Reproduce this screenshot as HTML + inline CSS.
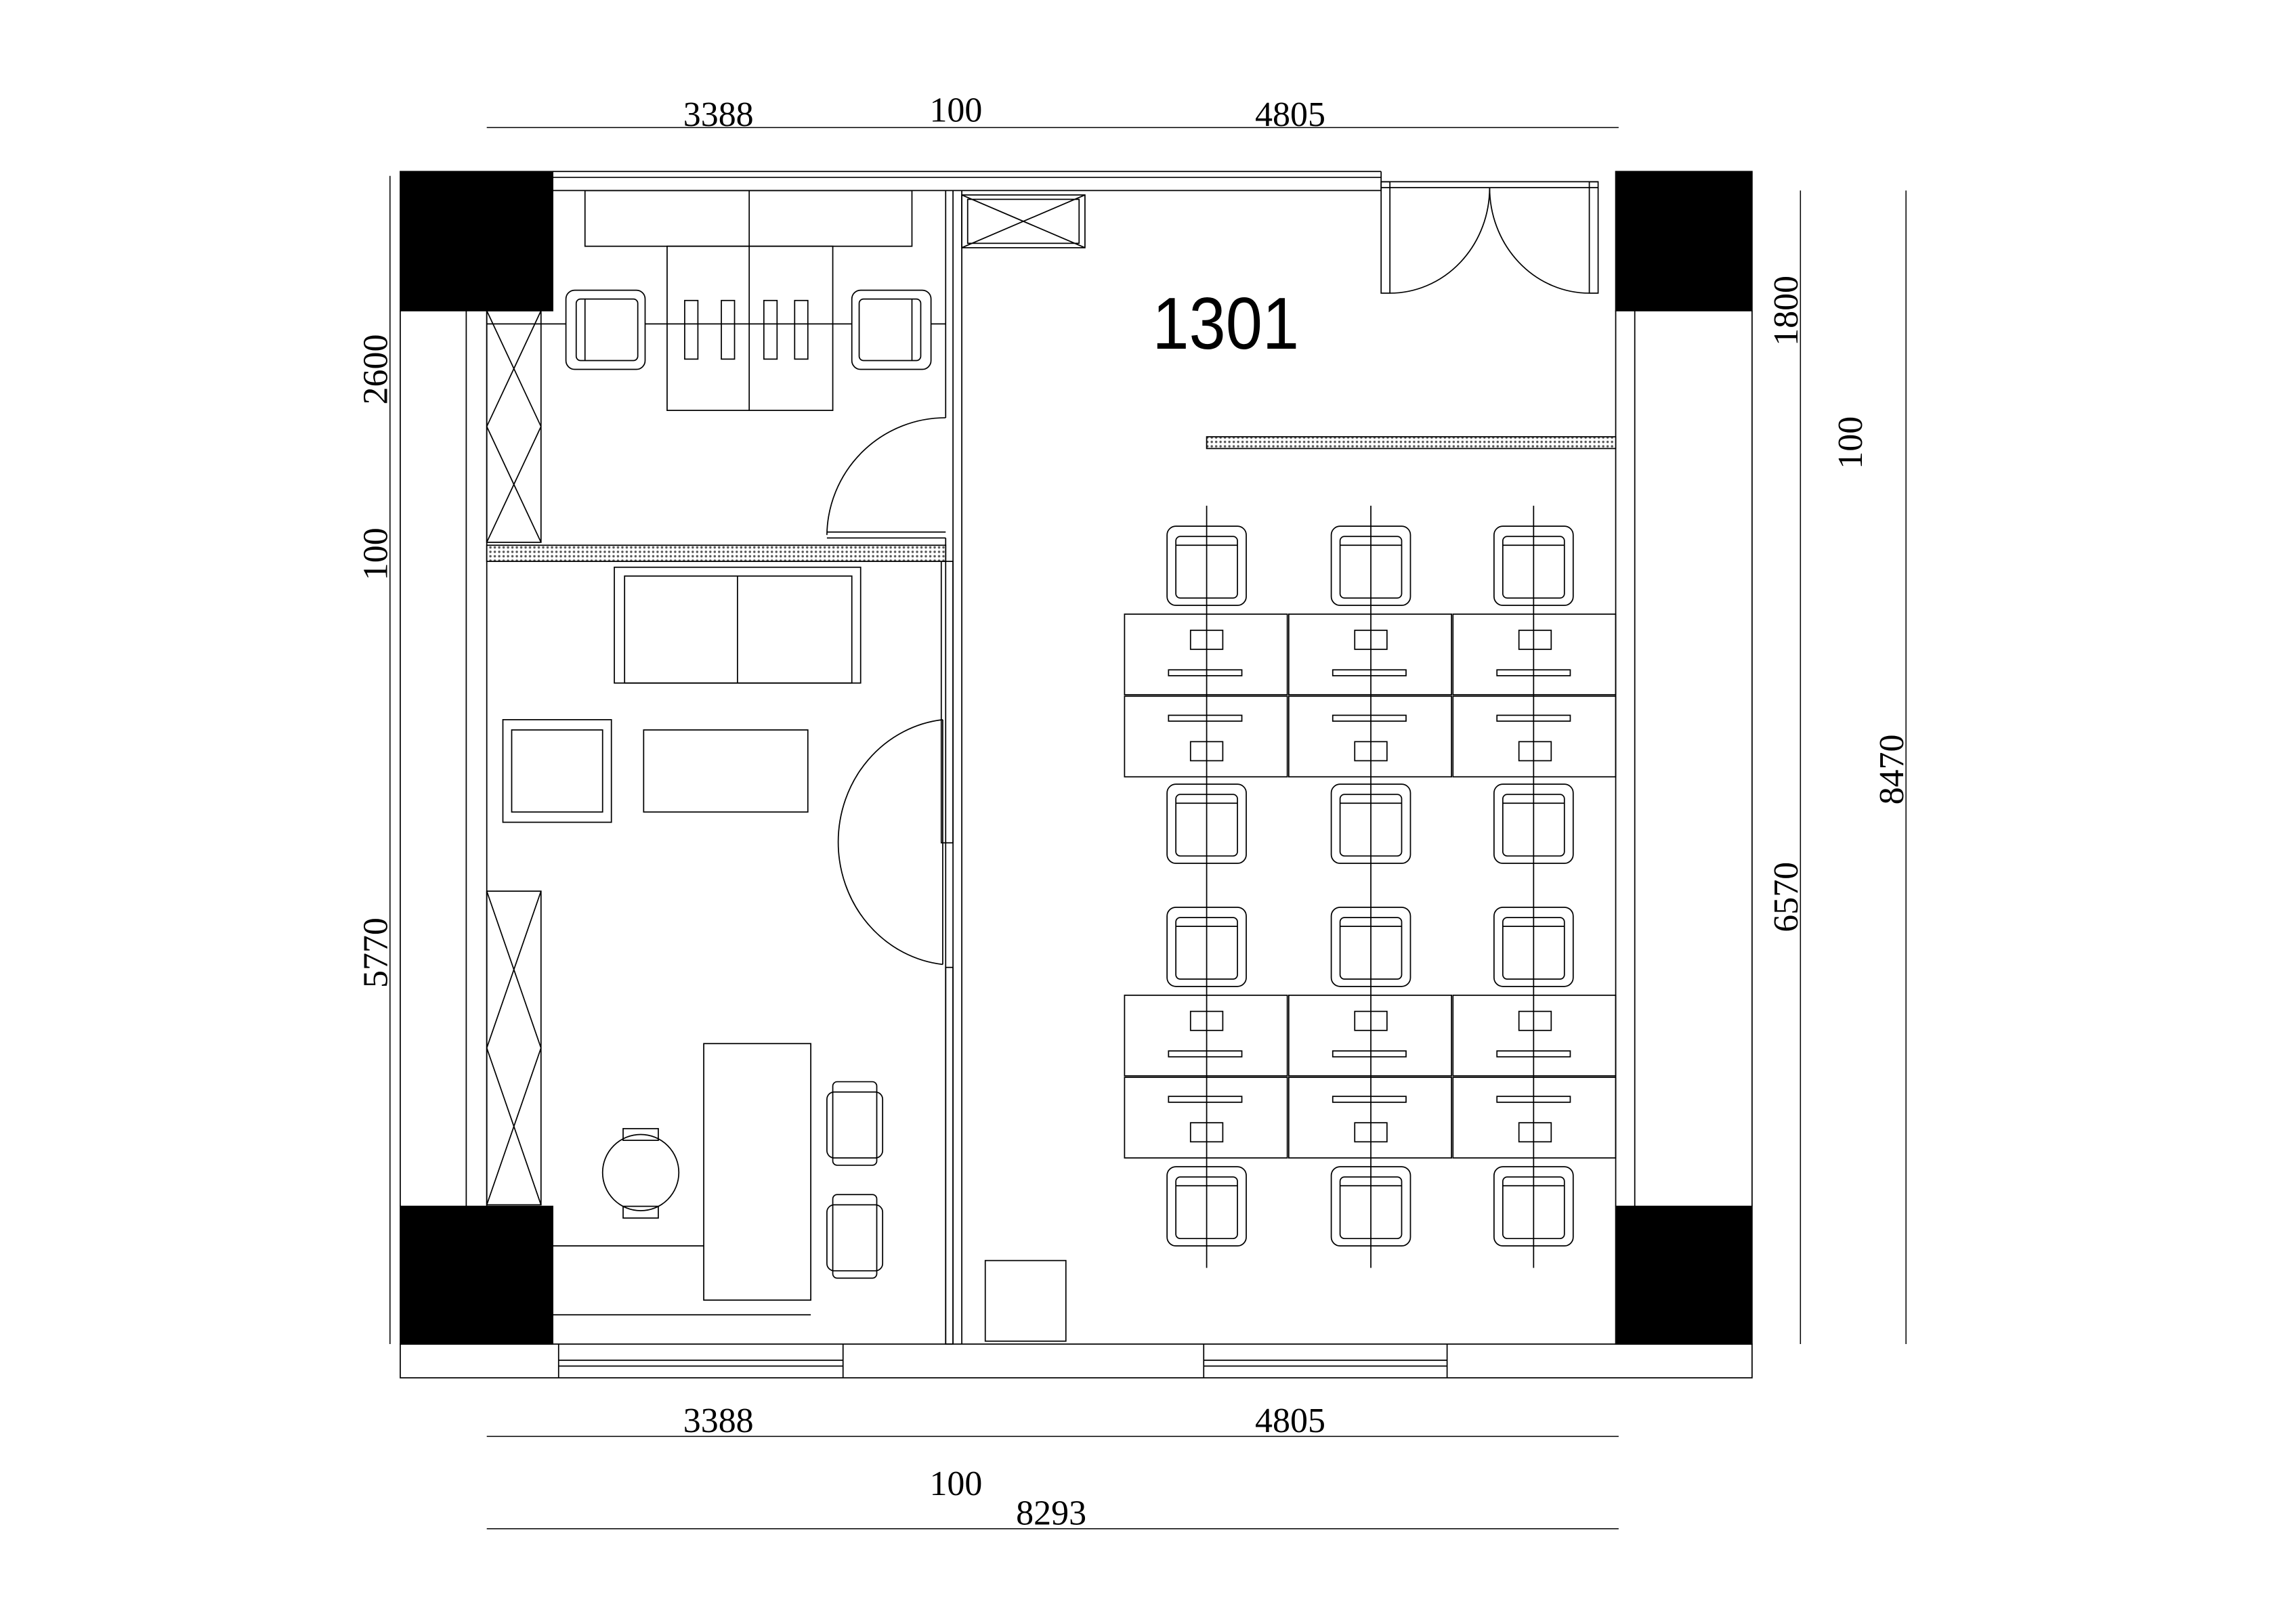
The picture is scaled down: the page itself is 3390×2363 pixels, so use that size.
<!DOCTYPE html>
<html><head><meta charset="utf-8"><style>html,body{margin:0;padding:0;background:#fff}svg{display:block}</style></head><body>
<svg width="3390" height="2363" viewBox="0 0 1566 1091.6" preserveAspectRatio="none" xmlns="http://www.w3.org/2000/svg" font-family="Liberation Serif, serif">
<defs>
<pattern id="h" width="3" height="3" patternUnits="userSpaceOnUse"><rect width="3" height="3" fill="#fff"/><circle cx="1.5" cy="1.5" r="0.8" fill="#555"/></pattern>
<g id="ch" fill="#fff" stroke="#000" stroke-width="0.8">
<rect x="-27" y="-27" width="54" height="54" rx="6"/>
<rect x="-21" y="-20" width="42" height="42" rx="3"/>
<line x1="-21" y1="-14" x2="21" y2="-14"/>
</g>
<g id="ws" fill="none" stroke="#000" stroke-width="0.8">
<rect x="0" y="0" width="111" height="55"/>
<rect x="45" y="11" width="22" height="13"/>
<rect x="30" y="38" width="50" height="4"/>
</g>
</defs>
<g stroke="#000" stroke-width="0.8" fill="none">
<rect x="273" y="117" width="104" height="95" fill="#000"/>
<rect x="1102" y="117" width="93" height="95" fill="#000"/>
<rect x="273" y="823" width="104" height="94" fill="#000"/>
<rect x="1102" y="823" width="93" height="94" fill="#000"/>
<line x1="377" y1="117" x2="942" y2="117"/><line x1="377" y1="130" x2="942" y2="130"/>
<line x1="377" y1="121" x2="942" y2="121"/>
<line x1="942" y1="117" x2="942" y2="130"/>
<rect x="942" y="124" width="6" height="76"/><rect x="1084" y="124" width="6" height="76"/>
<line x1="942" y1="124" x2="1090" y2="124"/><line x1="942" y1="128" x2="1090" y2="128"/>
<path d="M948 200 A68 72 0 0 0 1016 128"/><path d="M1084 200 A68 72 0 0 1 1016 128"/>
<line x1="318" y1="212" x2="318" y2="823"/><line x1="332" y1="212" x2="332" y2="823"/>
<line x1="273" y1="212" x2="273" y2="823"/>
<line x1="1102" y1="212" x2="1102" y2="823"/><line x1="1115" y1="212" x2="1115" y2="823"/>
<line x1="1195" y1="212" x2="1195" y2="823"/>
<rect x="273" y="917" width="922" height="23"/>
<line x1="381" y1="928" x2="575" y2="928"/><line x1="381" y1="932" x2="575" y2="932"/>
<line x1="381" y1="917" x2="381" y2="940"/><line x1="575" y1="917" x2="575" y2="940"/>
<line x1="821" y1="928" x2="987" y2="928"/><line x1="821" y1="932" x2="987" y2="932"/>
<line x1="821" y1="917" x2="821" y2="940"/><line x1="987" y1="917" x2="987" y2="940"/>
<line x1="650" y1="130" x2="650" y2="917"/><line x1="656" y1="130" x2="656" y2="917"/>
<line x1="645" y1="130" x2="645" y2="285"/>
<line x1="645" y1="367" x2="645" y2="917"/>
<rect x="642" y="383" width="8" height="192"/>
<rect x="645" y="660" width="5" height="257"/>
<line x1="564" y1="367" x2="645" y2="367"/><line x1="564" y1="363" x2="645" y2="363"/>
<path d="M564 365 A81 81 0 0 1 645 285"/>
<line x1="643" y1="491" x2="643" y2="658"/>
<path d="M643 491 A80 84 0 0 0 643 658"/>
<rect x="332" y="372" width="313" height="11" fill="url(#h)"/>
<rect x="823" y="298" width="279" height="8" fill="url(#h)"/>
<rect x="656" y="133" width="84" height="36"/>
<line x1="656" y1="133" x2="740" y2="169"/><line x1="740" y1="133" x2="656" y2="169"/>
<rect x="660" y="136" width="76" height="30"/>
<rect x="399" y="130" width="223" height="38"/><line x1="511" y1="130" x2="511" y2="168"/>
<rect x="455" y="168" width="113" height="112"/><line x1="511" y1="168" x2="511" y2="280"/>
<rect x="467" y="205" width="9" height="40"/><rect x="492" y="205" width="9" height="40"/>
<rect x="521" y="205" width="9" height="40"/><rect x="542" y="205" width="9" height="40"/>
<line x1="332" y1="221" x2="645" y2="221"/>
<rect x="332" y="212" width="37" height="158"/>
<line x1="332" y1="212" x2="369" y2="291"/><line x1="369" y1="212" x2="332" y2="291"/>
<line x1="332" y1="291" x2="369" y2="370"/><line x1="369" y1="291" x2="332" y2="370"/>
<g transform="translate(413,225) rotate(-90)"><use href="#ch"/></g>
<g transform="translate(608,225) rotate(90)"><use href="#ch"/></g>
<rect x="419" y="387" width="168" height="79"/><rect x="426" y="393" width="155" height="73"/>
<line x1="503" y1="393" x2="503" y2="466"/>
<rect x="343" y="491" width="74" height="70"/><rect x="349" y="498" width="62" height="56"/>
<rect x="439" y="498" width="112" height="56"/>
<rect x="332" y="608" width="37" height="214"/>
<line x1="332" y1="608" x2="369" y2="715"/><line x1="369" y1="608" x2="332" y2="715"/>
<line x1="332" y1="715" x2="369" y2="822"/><line x1="369" y1="715" x2="332" y2="822"/>
<line x1="377" y1="850" x2="480" y2="850"/><line x1="377" y1="897" x2="553" y2="897"/>
<rect x="480" y="712" width="73" height="175"/>
<circle cx="437" cy="800" r="26"/><rect x="425" y="770" width="24" height="8"/><rect x="425" y="823" width="24" height="8"/>
<rect x="564" y="745" width="38" height="45" rx="5"/><rect x="568" y="738" width="30" height="57" rx="3"/>
<rect x="564" y="822" width="38" height="45" rx="5"/><rect x="568" y="815" width="30" height="57" rx="3"/>
<rect x="672" y="860" width="55" height="55"/>
</g>
<g>
<use href="#ws" x="767" y="419"/><use href="#ws" x="879" y="419"/><use href="#ws" x="991" y="419"/>
<g transform="translate(767,530) scale(1,-1)"><use href="#ws"/></g><g transform="translate(879,530) scale(1,-1)"><use href="#ws"/></g><g transform="translate(991,530) scale(1,-1)"><use href="#ws"/></g>
<use href="#ws" x="767" y="679"/><use href="#ws" x="879" y="679"/><use href="#ws" x="991" y="679"/>
<g transform="translate(767,790) scale(1,-1)"><use href="#ws"/></g><g transform="translate(879,790) scale(1,-1)"><use href="#ws"/></g><g transform="translate(991,790) scale(1,-1)"><use href="#ws"/></g>
<use href="#ch" x="823" y="386"/><use href="#ch" x="935" y="386"/><use href="#ch" x="1046" y="386"/>
<use href="#ch" x="823" y="562"/><use href="#ch" x="935" y="562"/><use href="#ch" x="1046" y="562"/>
<use href="#ch" x="823" y="646"/><use href="#ch" x="935" y="646"/><use href="#ch" x="1046" y="646"/>
<use href="#ch" x="823" y="823"/><use href="#ch" x="935" y="823"/><use href="#ch" x="1046" y="823"/>
<g stroke="#000" stroke-width="0.8">
<line x1="823" y1="345" x2="823" y2="865"/><line x1="935" y1="345" x2="935" y2="865"/><line x1="1046" y1="345" x2="1046" y2="865"/>
</g>
</g>
<g stroke="#000" stroke-width="0.7">
<line x1="332" y1="87" x2="1104" y2="87"/>
<line x1="332" y1="980" x2="1104" y2="980"/>
<line x1="332" y1="1043" x2="1104" y2="1043"/>
<line x1="266" y1="120" x2="266" y2="917"/>
<line x1="1228" y1="130" x2="1228" y2="917"/>
<line x1="1300" y1="130" x2="1300" y2="917"/>
</g>
<g font-size="24" text-anchor="middle" fill="#000">
<text x="490" y="86">3388</text><text x="652" y="83">100</text><text x="880" y="86">4805</text>
<text x="490" y="977">3388</text><text x="880" y="977">4805</text>
<text x="652" y="1020">100</text><text x="717" y="1040">8293</text>
<text transform="translate(264,252) rotate(-90)">2600</text>
<text transform="translate(264,378) rotate(-90)">100</text>
<text transform="translate(264,650) rotate(-90)">5770</text>
<text transform="translate(1226,212) rotate(-90)">1800</text>
<text transform="translate(1270,302) rotate(-90)">100</text>
<text transform="translate(1226,612) rotate(-90)">6570</text>
<text transform="translate(1298,525) rotate(-90)">8470</text>
</g>
<text x="836" y="238" font-family="Liberation Sans, sans-serif" font-size="50" text-anchor="middle" transform="translate(836,0) scale(0.9,1) translate(-836,0)">1301</text>
</svg>
</body></html>
